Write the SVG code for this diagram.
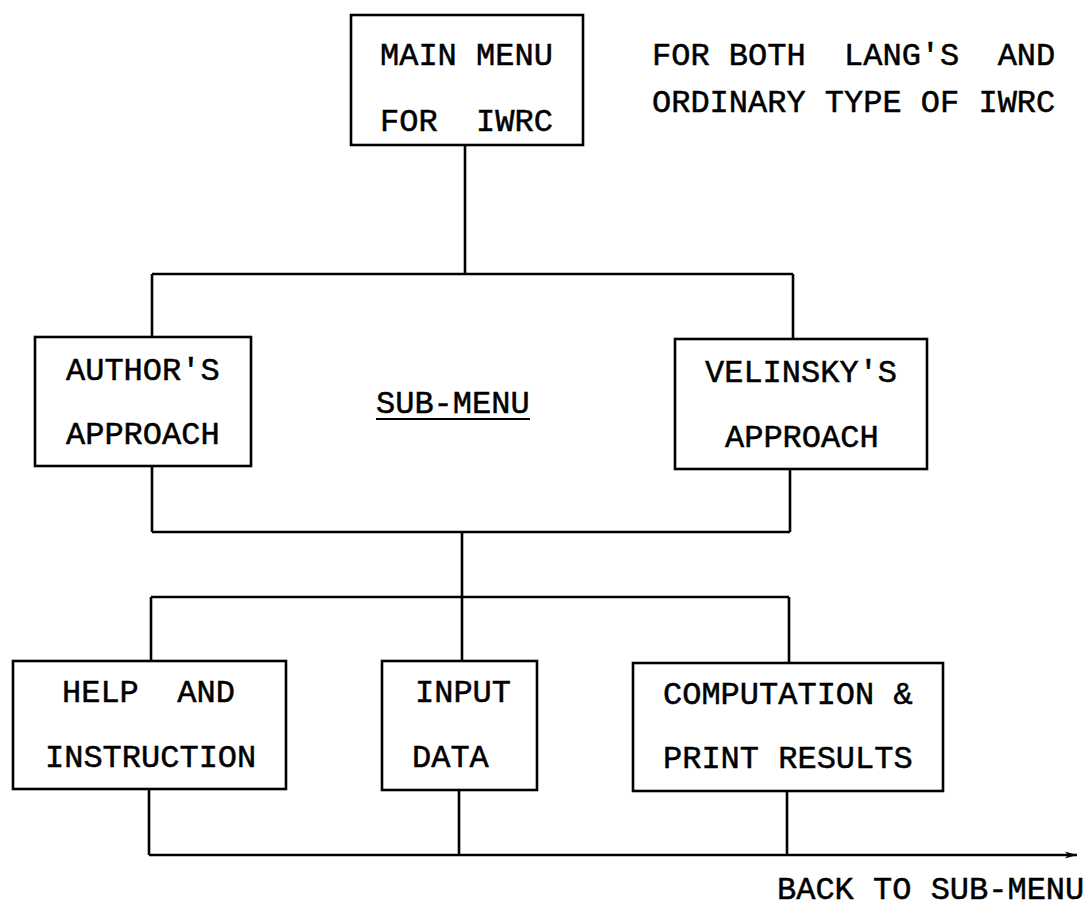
<svg xmlns="http://www.w3.org/2000/svg" width="1088" height="917" viewBox="0 0 1088 917">
  <style>
    .box { fill: #fff; stroke: #000; stroke-width: 2.6; }
    .wire { fill: none; stroke: #000; stroke-width: 2.6; }
    .lbl { font-family: "Liberation Mono", "Courier New", monospace; font-size: 32px; fill: #000; stroke: #000; stroke-width: 0.5; white-space: pre; }
  </style>
  <defs>
    <marker id="arrow" viewBox="0 0 12 8" refX="12" refY="4" markerWidth="12" markerHeight="8" markerUnits="userSpaceOnUse" orient="auto">
      <path d="M0,0.5 L12,4 L0,7.5 L3,4 Z" fill="#000"/>
    </marker>
  </defs>
  <rect width="1088" height="917" fill="#fff"/>

  <!-- connectors -->
  <g id="connectors">
    <path class="wire" d="M465,145 V274"/>
    <path class="wire" d="M152,274 H793"/>
    <path class="wire" d="M152,274 V337"/>
    <path class="wire" d="M793,274 V339"/>
    <path class="wire" d="M152,466 V532"/>
    <path class="wire" d="M790,469 V532"/>
    <path class="wire" d="M152,532 H790"/>
    <path class="wire" d="M462,532 V661"/>
    <path class="wire" d="M151,597 H789"/>
    <path class="wire" d="M151,597 V661"/>
    <path class="wire" d="M789,597 V663"/>
    <path class="wire" d="M149,789 V855"/>
    <path class="wire" d="M459,790 V855"/>
    <path class="wire" d="M787,791 V855"/>
    <path class="wire" d="M149,855 H1077" marker-end="url(#arrow)"/>
  </g>

  <!-- main menu -->
  <g id="main-menu">
    <rect class="box" x="351" y="15" width="232" height="130"/>
    <text class="lbl" x="380" y="65">MAIN MENU</text>
    <text class="lbl" x="380" y="131">FOR  IWRC</text>
  </g>

  <!-- side note -->
  <g id="note">
    <text class="lbl" x="652" y="65">FOR BOTH  LANG'S  AND</text>
    <text class="lbl" x="652" y="112">ORDINARY TYPE OF IWRC</text>
  </g>

  <!-- approaches -->
  <g id="authors-approach">
    <rect class="box" x="35" y="337" width="216" height="129"/>
    <text class="lbl" x="66" y="380">AUTHOR'S</text>
    <text class="lbl" x="66" y="444">APPROACH</text>
  </g>
  <g id="velinskys-approach">
    <rect class="box" x="675" y="339" width="252" height="130"/>
    <text class="lbl" x="705" y="382">VELINSKY'S</text>
    <text class="lbl" x="725" y="447">APPROACH</text>
  </g>

  <!-- sub-menu heading -->
  <g id="sub-menu">
    <text class="lbl" x="376" y="413">SUB-MENU</text>
    <path class="wire" d="M376,419 H530" style="stroke-width:2"/>
  </g>

  <!-- sub-menu options -->
  <g id="help">
    <rect class="box" x="13" y="661" width="273" height="128"/>
    <text class="lbl" x="62" y="702">HELP  AND</text>
    <text class="lbl" x="45" y="767">INSTRUCTION</text>
  </g>
  <g id="input">
    <rect class="box" x="382" y="661" width="155" height="129"/>
    <text class="lbl" x="415" y="702">INPUT</text>
    <text class="lbl" x="412" y="767">DATA</text>
  </g>
  <g id="computation">
    <rect class="box" x="633" y="663" width="310" height="128"/>
    <text class="lbl" x="663" y="704">COMPUTATION &amp;</text>
    <text class="lbl" x="663" y="768">PRINT RESULTS</text>
  </g>

  <!-- return label -->
  <g id="back">
    <text class="lbl" x="777" y="899">BACK TO SUB-MENU</text>
  </g>
</svg>
